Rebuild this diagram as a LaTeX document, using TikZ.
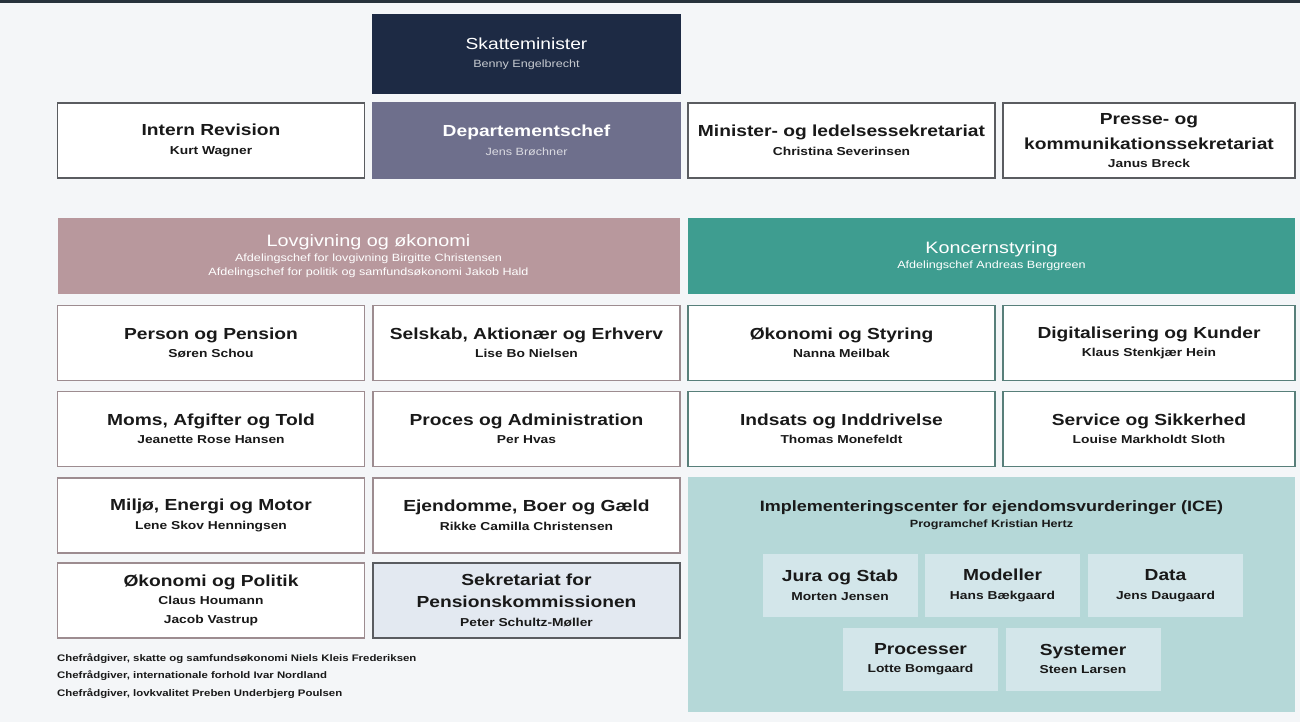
\documentclass[tikz,border=0pt]{standalone}
\usepackage{fontspec}
\setmainfont{Liberation Sans}[FakeStretch=1.2]

\definecolor{pagebg}{HTML}{F4F6F8}
\definecolor{topbar}{HTML}{27323C}
\definecolor{ministercol}{HTML}{1D2A44}
\definecolor{deptcol}{HTML}{6E6F8C}
\definecolor{lovcol}{HTML}{B8989D}
\definecolor{koncol}{HTML}{3E9D90}
\definecolor{icecol}{HTML}{B5D8D8}
\definecolor{subcol}{HTML}{D3E6EA}
\definecolor{sekcol}{HTML}{E3E9F1}
\definecolor{lovline}{HTML}{9D8C90}
\definecolor{konline}{HTML}{587F7A}
\definecolor{topline}{HTML}{5A5C60}

\newcommand{\ttlfont}{\fontsize{16}{19}\selectfont\bfseries}
\newcommand{\nmfont}{\fontsize{11.5}{13.5}\selectfont\bfseries}
\newcommand{\orgunit}[2]{{\ttlfont #1}\\[5pt]#2}

\tikzset{
  unit/.style={draw=#1, line width=1.4pt, fill=white, minimum width=307pt,
    minimum height=75pt, align=center, inner sep=0pt, font=\nmfont, text=black!90},
  unit/.default=lovline,
  header/.style={fill=#1, minimum width=622pt, minimum height=76pt,
    align=center, inner sep=0pt, text=white, font=\fontsize{10.5}{13}\selectfont},
  subunit/.style={fill=subcol, minimum width=155pt, minimum height=63pt,
    align=center, inner sep=0pt, font=\nmfont, text=black!90}
}

\begin{document}
\begin{tikzpicture}[x=1pt,y=-1pt]
\useasboundingbox (0,0) rectangle (1300,722);
\fill[pagebg] (0,0) rectangle (1300,722);
\fill[topbar] (0,0) rectangle (1300,3);

% top of the ministry
\node[unit=ministercol, fill=ministercol, text=white, minimum height=78pt] (minister) at (526.5,54)
  {\orgunit{\mdseries Skatteminister}{\fontsize{10.5}{13}\selectfont\color{white!75!ministercol}\mdseries Benny Engelbrecht}};
\node[unit=topline] (revision) at (211,140.5) {\orgunit{Intern Revision}{Kurt Wagner}};
\node[unit=deptcol, fill=deptcol, text=white] (dept) at (526.5,140.5)
  {\orgunit{Departementschef}{\fontsize{10.5}{13}\selectfont\color{white!75!deptcol}\mdseries Jens Brøchner}};
\node[unit=topline] (ledelse) at (841.5,140.5)
  {\orgunit{Minister- og ledelsessekretariat}{Christina Severinsen}};
\node[unit=topline, minimum width=292pt] (presse) at (1149,140.5)
  {{\ttlfont Presse- og}\\[9.5pt]{\ttlfont kommunikationssekretariat}\\[4pt]Janus Breck};

% lovgivning og oekonomi
\node[header=lovcol] (lov) at (368.5,256)
  {{\fontsize{16.5}{19}\selectfont Lovgivning og økonomi}\\[2pt]
   Afdelingschef for lovgivning Birgitte Christensen\\[1pt]
   Afdelingschef for politik og samfundsøkonomi Jakob Hald};
\node[unit] (person) at (211,343) {\orgunit{Person og Pension}{Søren Schou}};
\node[unit] (selskab) at (526.5,343) {\orgunit{Selskab, Aktionær og Erhverv}{Lise Bo Nielsen}};
\node[unit] (moms) at (211,429) {\orgunit{Moms, Afgifter og Told}{Jeanette Rose Hansen}};
\node[unit] (proces) at (526.5,429) {\orgunit{Proces og Administration}{Per Hvas}};
\node[unit] (miljoe) at (211,515.5) {\orgunit{Miljø, Energi og Motor}{Lene Skov Henningsen}};
\node[unit] (ejendom) at (526.5,515.5) {\orgunit{Ejendomme, Boer og Gæld}{Rikke Camilla Christensen}};
\node[unit] (politik) at (211,600.5)
  {\orgunit{Økonomi og Politik}{Claus Houmann\\[5.5pt]Jacob Vastrup}};
\node[unit=topline, fill=sekcol] (sekretariat) at (526.5,600.5)
  {{\ttlfont Sekretariat for}\\[8.5pt]{\ttlfont Pensionskommissionen}\\[5.5pt]Peter Schultz-Møller};
\node[anchor=north west, align=left, inner sep=0pt, text=black!90,
  font=\fontsize{9.5}{17.5}\selectfont\bfseries] (notes) at (57,653)
  {Chefrådgiver, skatte og samfundsøkonomi Niels Kleis Frederiksen\\
   Chefrådgiver, internationale forhold Ivar Nordland\\
   Chefrådgiver, lovkvalitet Preben Underbjerg Poulsen};

% koncernstyring
\node[header=koncol, minimum width=607pt] (koncern) at (991.5,256)
  {{\fontsize{16.5}{19}\selectfont Koncernstyring}\\[2pt]Afdelingschef Andreas Berggreen};
\node[unit=konline] (styring) at (841.5,343) {\orgunit{Økonomi og Styring}{Nanna Meilbak}};
\node[unit=konline, minimum width=292pt] (digital) at (1149,343)
  {\orgunit{Digitalisering og Kunder}{Klaus Stenkjær Hein}};
\node[unit=konline] (indsats) at (841.5,429) {\orgunit{Indsats og Inddrivelse}{Thomas Monefeldt}};
\node[unit=konline, minimum width=292pt] (service) at (1149,429)
  {\orgunit{Service og Sikkerhed}{Louise Markholdt Sloth}};

% ICE
\node[fill=icecol, minimum width=607pt, minimum height=235pt] (ice) at (991.5,594.5) {};
\node[align=center, inner sep=0pt, font=\fontsize{10.5}{13}\selectfont\bfseries, text=black!90] (icetitle) at (991.5,515)
  {{\fontsize{15}{18}\selectfont Implementeringscenter for ejendomsvurderinger (ICE)}\\[3pt]Programchef Kristian Hertz};
\node[subunit] (jura) at (840,585.5) {\orgunit{Jura og Stab}{Morten Jensen}};
\node[subunit] (modeller) at (1002.5,585.5) {\orgunit{Modeller}{Hans Bækgaard}};
\node[subunit] (data) at (1165.5,585.5) {\orgunit{Data}{Jens Daugaard}};
\node[subunit] (processer) at (920.5,659) {\orgunit{Processer}{Lotte Bomgaard}};
\node[subunit] (systemer) at (1083,659) {\orgunit{Systemer}{Steen Larsen}};
\end{tikzpicture}
\end{document}
